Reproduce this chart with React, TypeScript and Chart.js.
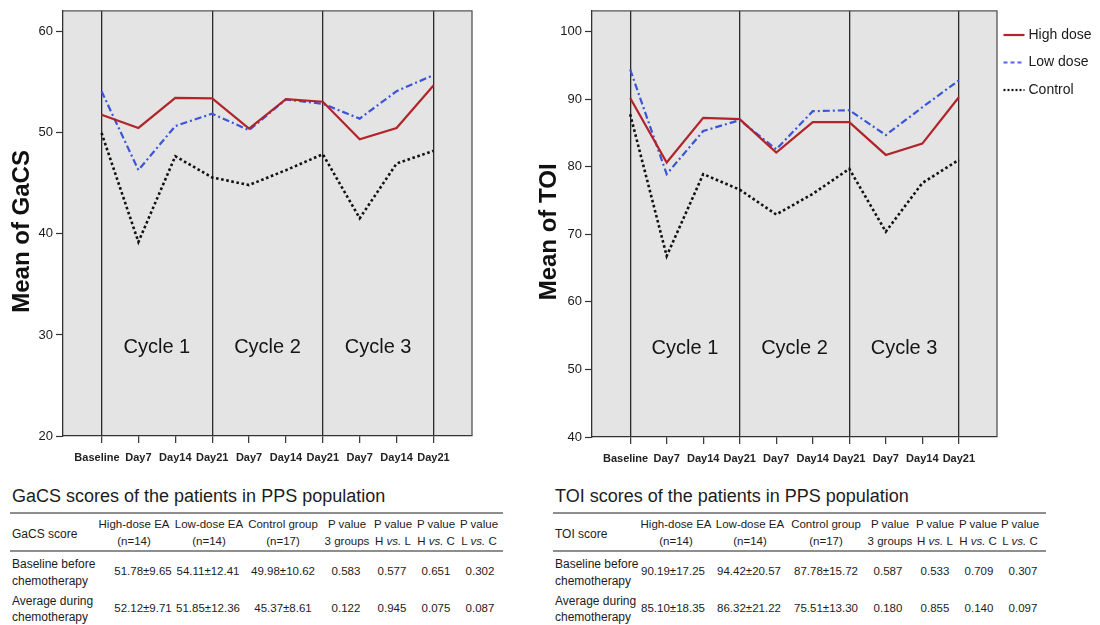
import React, { useEffect, useRef } from 'react';
import { Chart, registerables } from 'chart.js';

Chart.register(...registerables);

const FONT = '"Liberation Sans", Arial, Helvetica, sans-serif';

// ---------- chart data ----------
const timeLabels = ['Baseline', 'Day7', 'Day14', 'Day21', 'Day7', 'Day14', 'Day21', 'Day7', 'Day14', 'Day21'];
const cycleBoundaries = [0, 3, 6, 9];
const cycleLabels = ['Cycle 1', 'Cycle 2', 'Cycle 3'];
const seriesNames = ['High dose', 'Low dose', 'Control'];

const gacsHigh = [51.78, 50.48, 53.46, 53.4, 50.41, 53.33, 53.07, 49.36, 50.48, 54.68];
const gacsLow = [54.11, 46.31, 50.67, 51.89, 50.25, 53.3, 52.87, 51.4, 54.12, 55.7];
const gacsControl = [49.98, 39.2, 47.68, 45.58, 44.83, 46.3, 47.88, 41.54, 46.96, 48.21];

const toiHigh = [90.19, 80.64, 87.25, 87.06, 82.11, 86.62, 86.62, 81.76, 83.43, 90.3];
const toiLow = [94.42, 78.92, 85.3, 86.91, 82.6, 88.24, 88.38, 84.7, 88.82, 92.8];
const toiControl = [87.78, 66.8, 78.92, 76.62, 72.94, 76.0, 79.7, 70.4, 77.6, 81.03];

const gacsTicks = [20, 30, 40, 50, 60];
const toiTicks = [40, 50, 60, 70, 80, 90, 100];

// ---------- table data ----------
const tableHeaders = [
  ['High-dose EA', '(n=14)'],
  ['Low-dose EA', '(n=14)'],
  ['Control group', '(n=17)'],
  ['P value', '3 groups'],
  ['P value', 'H vs. L'],
  ['P value', 'H vs. C'],
  ['P value', 'L vs. C'],
];
const rowLabels = [
  ['Baseline before', 'chemotherapy'],
  ['Average during', 'chemotherapy'],
];
const gacsRows = [
  ['51.78±9.65', '54.11±12.41', '49.98±10.62', '0.583', '0.577', '0.651', '0.302'],
  ['52.12±9.71', '51.85±12.36', '45.37±8.61', '0.122', '0.945', '0.075', '0.087'],
];
const toiRows = [
  ['90.19±17.25', '94.42±20.57', '87.78±15.72', '0.587', '0.533', '0.709', '0.307'],
  ['85.10±18.35', '86.32±21.22', '75.51±13.30', '0.180', '0.855', '0.140', '0.097'],
];

// ---------- styles ----------
const seriesStyles = [
  { color: '#b3232a', width: 2.2, dash: [] as number[], legendColor: '#b3232a', legendDash: [] as number[] },
  { color: '#3a55d8', width: 2.2, dash: [7, 3, 2, 3], legendColor: '#5a62f2', legendDash: [4, 3] },
  { color: '#111111', width: 2.6, dash: [2.6, 2.6], legendColor: '#111111', legendDash: [2, 2] },
];

type Area = { left: number; top: number; right: number; bottom: number };

type LineChartProps = {
  series: number[][];
  yMin: number;
  yMax: number;
  yTicks: number[];
  yTitle: string;
  width: number;
  height: number;
  area: Area;
  titleX: number;
  showLegend: boolean;
  left: number;
};

function LineChart(props: LineChartProps) {
  const ref = useRef<HTMLCanvasElement | null>(null);
  useEffect(() => {
    const canvas = ref.current;
    if (!canvas) return;
    const { series, yMin, yMax, yTicks, yTitle, width, height, area, titleX, showLegend } = props;

    const decor = {
      id: 'decor',
      beforeDraw(chart: any) {
        const { ctx, chartArea: a } = chart;
        ctx.save();
        ctx.fillStyle = '#e4e4e4';
        ctx.fillRect(a.left, a.top, a.right - a.left, a.bottom - a.top);
        ctx.restore();
      },
      afterDraw(chart: any) {
        const { ctx, chartArea: a, scales } = chart;
        ctx.save();
        // frame top & right
        ctx.strokeStyle = '#555';
        ctx.lineWidth = 1.3;
        ctx.beginPath();
        ctx.moveTo(a.left, a.top);
        ctx.lineTo(a.right, a.top);
        ctx.lineTo(a.right, a.bottom);
        ctx.stroke();

        // cycle labels
        ctx.fillStyle = '#151515';
        ctx.font = `20px ${FONT}`;
        ctx.textAlign = 'center';
        ctx.textBaseline = 'middle';
        cycleLabels.forEach((lab, i) => {
          const cx = scales.x.getPixelForValue((cycleBoundaries[i] + cycleBoundaries[i + 1]) / 2);
          ctx.fillText(lab, cx, a.bottom - 89);
        });

        // y title
        ctx.save();
        ctx.translate(titleX, (a.top + a.bottom) / 2 + 8);
        ctx.rotate(-Math.PI / 2);
        ctx.font = `bold 24px ${FONT}`;
        ctx.fillStyle = '#111';
        ctx.textAlign = 'center';
        ctx.textBaseline = 'middle';
        ctx.fillText(yTitle, 0, 0);
        ctx.restore();

        // legend
        if (showLegend) {
          const lx = a.right + 6.5;
          seriesNames.forEach((name, k) => {
            const ly = 35 + k * 27.5;
            const st = seriesStyles[k];
            ctx.strokeStyle = st.legendColor;
            ctx.lineWidth = 2.2;
            ctx.setLineDash(st.legendDash);
            ctx.beginPath();
            ctx.moveTo(lx, ly);
            ctx.lineTo(lx + 21, ly);
            ctx.stroke();
            ctx.setLineDash([]);
            ctx.fillStyle = '#1a1a1a';
            ctx.font = `14px ${FONT}`;
            ctx.textAlign = 'left';
            ctx.textBaseline = 'middle';
            ctx.fillText(name, lx + 25, ly);
          });
        }
        ctx.restore();
      },
    };

    const chart = new Chart(canvas, {
      type: 'line',
      data: {
        datasets: series.map((vals, k) => ({
          label: seriesNames[k],
          data: vals.map((v, i) => ({ x: i, y: v })),
          borderColor: seriesStyles[k].color,
          backgroundColor: seriesStyles[k].color,
          borderWidth: seriesStyles[k].width,
          borderDash: seriesStyles[k].dash,
          pointRadius: 0,
          pointHoverRadius: 0,
          fill: false,
          tension: 0,
        })),
      },
      options: {
        responsive: false,
        animation: false,
        events: [],
        layout: { padding: { left: 0, top: area.top, right: width - area.right, bottom: 0 } },
        plugins: { legend: { display: false }, tooltip: { enabled: false } },
        scales: {
          x: {
            type: 'linear',
            min: -1.045,
            max: timeLabels.length - 1 + 1.045,
            afterBuildTicks: (s: any) => {
              s.ticks = timeLabels.map((_, i) => ({ value: i }));
            },
            afterFit: (s: any) => {
              s.height = height - area.bottom;
            },
            ticks: {
              autoSkip: false,
              maxRotation: 0,
              minRotation: 0,
              padding: 8,
              color: '#222',
              font: { family: FONT, size: 11, weight: 'bold' },
              // the first label sits slightly left of its tick in the original
              callback: (v: any) => {
                const lab = timeLabels[v as number] ?? '';
                return v === 0 ? lab + '\u00a0\u00a0\u00a0' : lab;
              },
            },
            grid: {
              display: true,
              drawOnChartArea: true,
              drawTicks: true,
              tickLength: 7,
              tickColor: '#333',
              tickWidth: 1.2,
              lineWidth: 1.3,
              color: (ctx: any) =>
                ctx.tick && cycleBoundaries.includes(ctx.tick.value) ? '#2a2a2a' : 'rgba(0,0,0,0)',
            },
            border: { display: true, color: '#333', width: 1.3 },
          },
          y: {
            type: 'linear',
            min: yMin,
            max: yMax,
            afterBuildTicks: (s: any) => {
              s.ticks = yTicks.map((v) => ({ value: v }));
            },
            afterFit: (s: any) => {
              s.width = area.left;
            },
            ticks: {
              padding: 3,
              color: '#1a1a1a',
              font: { family: FONT, size: 13 },
            },
            grid: {
              display: true,
              drawOnChartArea: false,
              drawTicks: true,
              tickLength: 7,
              tickColor: '#333',
              tickWidth: 1.2,
              color: '#333',
            },
            border: { display: true, color: '#333', width: 1.3 },
          },
        },
      } as any,
      plugins: [decor],
    });
    return () => chart.destroy();
  }, []);

  return (
    <canvas
      ref={ref}
      width={props.width}
      height={props.height}
      style={{ position: 'absolute', left: props.left, top: 0, width: props.width, height: props.height }}
    />
  );
}

function rich(text: string) {
  const parts = text.split(/(vs\.)/);
  return parts.map((p, i) => (p === 'vs.' ? <i key={i}>vs.</i> : <React.Fragment key={i}>{p}</React.Fragment>));
}

type TableProps = {
  x0: number;
  title: string;
  firstHeader: string;
  rows: string[][];
  headerCenters: number[];
  valueCenters: number[];
};

function Txt({ x, y, children, align = 'center', size = 11.5 }: any) {
  return (
    <div
      style={{
        position: 'absolute',
        left: x,
        top: y,
        transform: align === 'center' ? 'translate(-50%, -50%)' : 'translate(0, -50%)',
        whiteSpace: 'nowrap',
        lineHeight: 1,
        fontSize: size,
        color: '#1c1c1c',
      }}
    >
      {children}
    </div>
  );
}

function ScoreTable({ x0, title, firstHeader, rows, headerCenters, valueCenters }: TableProps) {
  const rule = (y: number) => (
    <div style={{ position: 'absolute', left: x0 - 2, top: y - 1, width: 493, height: 2, background: '#8e8e8e' }} />
  );
  const rowLabelY = [
    [564, 581],
    [601, 617],
  ];
  const rowValueY = [572, 609];
  return (
    <>
      <Txt x={x0} y={496} align="left" size={18}>
        {title}
      </Txt>
      {rule(513)}
      <Txt x={x0} y={534} align="left" size={12}>
        {firstHeader}
      </Txt>
      {tableHeaders.map((h, i) => (
        <React.Fragment key={i}>
          <Txt x={headerCenters[i]} y={525}>
            {rich(h[0])}
          </Txt>
          <Txt x={headerCenters[i]} y={542}>
            {rich(h[1])}
          </Txt>
        </React.Fragment>
      ))}
      {rule(551)}
      {rows.map((r, ri) => (
        <React.Fragment key={ri}>
          <Txt x={x0} y={rowLabelY[ri][0]} align="left" size={12}>
            {rowLabels[ri][0]}
          </Txt>
          <Txt x={x0} y={rowLabelY[ri][1]} align="left" size={12}>
            {rowLabels[ri][1]}
          </Txt>
          {r.map((v, ci) => (
            <Txt key={ci} x={valueCenters[ci]} y={rowValueY[ri]}>
              {v}
            </Txt>
          ))}
        </React.Fragment>
      ))}
    </>
  );
}

export default function App() {
  return (
    <div
      style={{
        position: 'absolute',
        left: 0,
        top: 0,
        width: 1100,
        height: 625,
        background: '#ffffff',
        fontFamily: FONT,
        overflow: 'hidden',
      }}
    >
      <LineChart
        series={[gacsHigh, gacsLow, gacsControl]}
        yMin={20}
        yMax={62.07}
        yTicks={gacsTicks}
        yTitle="Mean of GaCS"
        width={500}
        height={470}
        area={{ left: 63, top: 9, right: 472, bottom: 436 }}
        titleX={22}
        showLegend={false}
        left={0}
      />
      <LineChart
        series={[toiHigh, toiLow, toiControl]}
        yMin={40}
        yMax={103.1}
        yTicks={toiTicks}
        yTitle="Mean of TOI"
        width={570}
        height={470}
        area={{ left: 62, top: 8, right: 467, bottom: 437 }}
        titleX={19}
        showLegend={true}
        left={530}
      />
      <ScoreTable
        x0={12}
        title="GaCS scores of the patients in PPS population"
        firstHeader="GaCS score"
        rows={gacsRows}
        headerCenters={[134, 209, 283, 347, 393, 436, 479]}
        valueCenters={[143, 208, 283, 346, 392, 436, 480]}
      />
      <ScoreTable
        x0={555}
        title="TOI scores of the patients in PPS population"
        firstHeader="TOI score"
        rows={toiRows}
        headerCenters={[676, 750, 826, 890, 935, 978, 1020]}
        valueCenters={[673, 749, 826, 888, 935, 979, 1023]}
      />
    </div>
  );
}
